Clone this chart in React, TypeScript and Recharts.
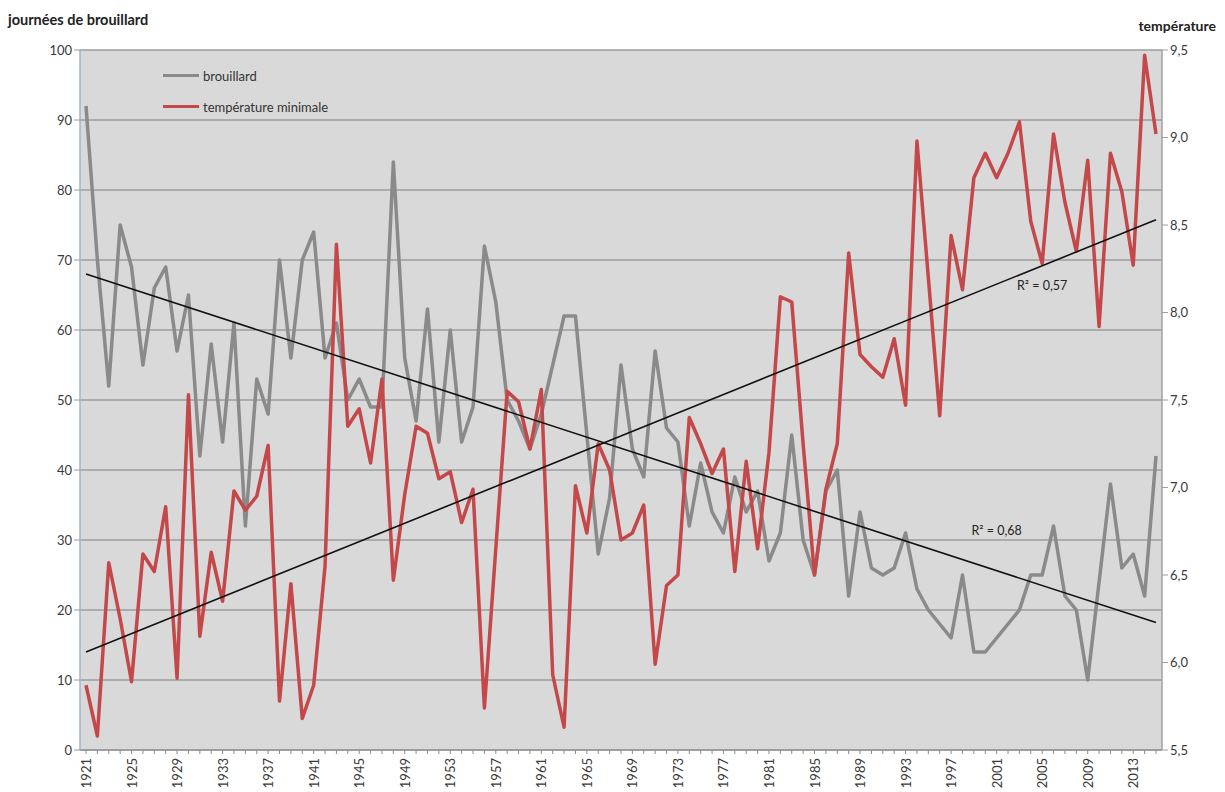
import {
  LineChart, Line, XAxis, YAxis, CartesianGrid, Legend,
  ReferenceLine, ReferenceDot,
} from 'recharts'

// années 1921 -> 2015
const YEARS = Array.from({ length: 95 }, (_, i) => String(1921 + i))

const BROUILLARD = [
  92, 70, 52, 75, 69, 55, 66, 69, 57, 65,
  42, 58, 44, 61, 32, 53, 48, 70, 56, 70,
  74, 56, 61, 50, 53, 49, 49, 84, 56, 47,
  63, 44, 60, 44, 49, 72, 64, 50, 47, 43,
  48, 55, 62, 62, 45, 28, 36, 55, 43, 39,
  57, 46, 44, 32, 41, 34, 31, 39, 34, 37,
  27, 31, 45, 30, 25, 37, 40, 22, 34, 26,
  25, 26, 31, 23, 20, 18, 16, 25, 14, 14,
  16, 18, 20, 25, 25, 32, 22, 20, 10, 24,
  38, 26, 28, 22, 42,
]

const TEMP_MIN = [
  5.87, 5.58, 6.57, 6.25, 5.89, 6.62, 6.52, 6.89, 5.91, 7.53,
  6.15, 6.63, 6.35, 6.98, 6.87, 6.95, 7.24, 5.78, 6.45, 5.68,
  5.87, 6.55, 8.39, 7.35, 7.45, 7.14, 7.62, 6.47, 6.96, 7.35,
  7.31, 7.05, 7.09, 6.80, 6.99, 5.74, 6.65, 7.55, 7.49, 7.22,
  7.56, 5.93, 5.63, 7.01, 6.74, 7.25, 7.10, 6.70, 6.74, 6.90,
  5.99, 6.44, 6.50, 7.40, 7.25, 7.08, 7.22, 6.52, 7.15, 6.65,
  7.20, 8.09, 8.06, 7.25, 6.50, 6.99, 7.25, 8.34, 7.76, 7.69,
  7.63, 7.85, 7.47, 8.98, 8.20, 7.41, 8.44, 8.13, 8.77, 8.91,
  8.77, 8.91, 9.09, 8.52, 8.28, 9.02, 8.63, 8.35, 8.87, 7.92,
  8.91, 8.69, 8.27, 9.47, 9.02,
]

// droites de tendance (début / fin)
const TREND_BROUILLARD = [68, 18.2]
const TREND_TEMP = [6.06, 8.53]

const TICK_YEARS = [
  '1921', '1925', '1929', '1933', '1937', '1941', '1945', '1949', '1953', '1957',
  '1961', '1965', '1969', '1973', '1977', '1981', '1985', '1989', '1993', '1997',
  '2001', '2005', '2009', '2013',
]
const LEFT_TICKS = [0, 10, 20, 30, 40, 50, 60, 70, 80, 90, 100]
const RIGHT_TICKS = [5.5, 6, 6.5, 7, 7.5, 8, 8.5, 9, 9.5]

const GRAY = '#8a8a8a'
const RED = '#c4484a'
const FONT = 'Lato, "Open Sans", sans-serif'
const TXT = '#3a3a3a'

const data = YEARS.map((year, i) => ({
  year,
  brouillard: BROUILLARD[i],
  temp: TEMP_MIN[i],
}))

function YearTick(props: any) {
  const { x, y, payload } = props
  if (!TICK_YEARS.includes(payload.value)) return null
  return (
    <text
      x={x} y={y + 2}
      transform={`rotate(-90, ${x}, ${y + 2})`}
      textAnchor="end" dominantBaseline="central"
      fontSize={13} fontFamily={FONT} fill={TXT}
    >
      {payload.value}
    </text>
  )
}

function LegendBox() {
  const rows = [
    { label: 'brouillard', color: GRAY },
    { label: 'température minimale', color: RED },
  ]
  return (
    <div style={{ fontFamily: FONT, fontSize: 13, color: '#333' }}>
      {rows.map((r) => (
        <div key={r.label} style={{ display: 'flex', alignItems: 'center', height: 31 }}>
          <div style={{ width: 36, height: 3.5, background: r.color, marginRight: 4 }} />
          <span>{r.label}</span>
        </div>
      ))}
    </div>
  )
}

export default function App() {
  return (
    <div style={{
      position: 'absolute', left: 0, top: 0, width: 1225, height: 792,
      background: '#fff', fontFamily: FONT,
    }}>
      <div style={{
        position: 'absolute', left: 8, top: 11, fontSize: 14.5, fontWeight: 700, color: '#222',
      }}>
        journées de brouillard
      </div>
      <div style={{
        position: 'absolute', right: 9, top: 17, fontSize: 14, fontWeight: 700, color: '#222',
      }}>
        température
      </div>

      <LineChart
        width={1225} height={792} data={data}
        margin={{ top: 50, right: 0, left: 0, bottom: 0 }}
      >
        <CartesianGrid
          yAxisId="left" vertical={false}
          fill="#d9d9d9" stroke="#9c9c9c" strokeWidth={1.5}
        />
        <XAxis
          dataKey="year" interval={0} height={42}
          padding={{ left: 6, right: 6 }}
          tick={<YearTick />} tickSize={4}
          stroke="#8c8c8c"
        />
        <YAxis
          yAxisId="left" domain={[0, 100]} ticks={LEFT_TICKS} width={80}
          tick={{ fontSize: 13, fontFamily: FONT, fill: TXT }}
          axisLine={{ stroke: '#9fb4cc', strokeWidth: 1.5 }}
          tickLine={{ stroke: '#9c9c9c' }} tickSize={6}
        />
        <YAxis
          yAxisId="right" orientation="right" domain={[5.5, 9.5]} ticks={RIGHT_TICKS}
          width={63}
          tickFormatter={(v: number) => v.toFixed(1).replace('.', ',')}
          tick={{ fontSize: 13, fontFamily: FONT, fill: TXT }}
          axisLine={{ stroke: '#a0a0a0', strokeWidth: 1.5 }}
          tickLine={{ stroke: '#a0a0a0' }} tickSize={6}
        />
        <Legend
          layout="vertical" align="center" verticalAlign="middle"
          content={() => <LegendBox />}
          wrapperStyle={{ top: 60, left: 163, width: 220 }}
        />
        <Line
          yAxisId="left" dataKey="brouillard" stroke={GRAY} strokeWidth={3.5}
          dot={false} isAnimationActive={false} strokeLinejoin="round"
        />
        <Line
          yAxisId="right" dataKey="temp" stroke={RED} strokeWidth={3.5}
          dot={false} isAnimationActive={false} strokeLinejoin="round"
        />
        <ReferenceLine
          yAxisId="left"
          segment={[
            { x: YEARS[0], y: TREND_BROUILLARD[0] },
            { x: YEARS[YEARS.length - 1], y: TREND_BROUILLARD[1] },
          ]}
          stroke="#111" strokeWidth={1.6}
        />
        <ReferenceLine
          yAxisId="right"
          segment={[
            { x: YEARS[0], y: TREND_TEMP[0] },
            { x: YEARS[YEARS.length - 1], y: TREND_TEMP[1] },
          ]}
          stroke="#111" strokeWidth={1.6}
        />
        <ReferenceDot
          yAxisId="left" x="2005" y={66.4} r={0} fill="none" stroke="none"
          label={{ value: 'R² = 0,57', position: 'center', fontSize: 12.5, fontFamily: FONT, fill: '#222' }}
        />
        <ReferenceDot
          yAxisId="left" x="2001" y={31.4} r={0} fill="none" stroke="none"
          label={{ value: 'R² = 0,68', position: 'center', fontSize: 12.5, fontFamily: FONT, fill: '#222' }}
        />
      </LineChart>
    </div>
  )
}
